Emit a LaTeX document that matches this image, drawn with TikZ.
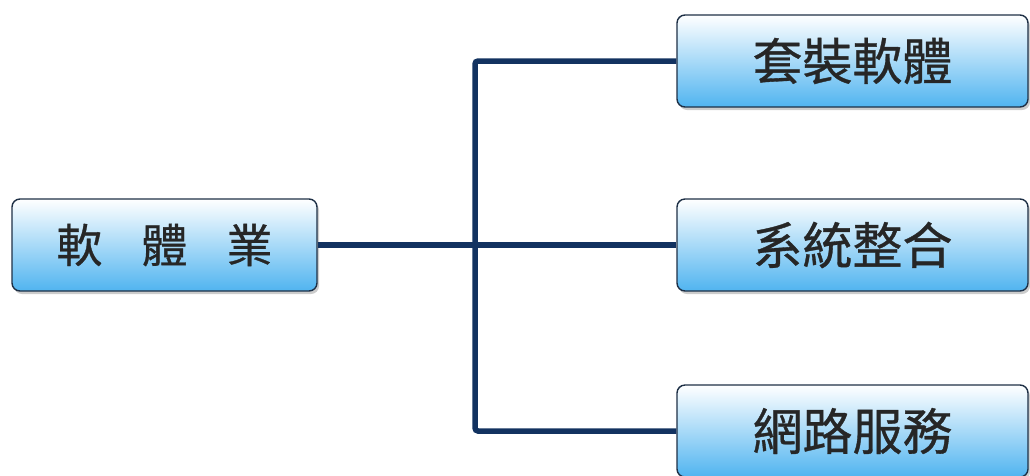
\documentclass[tikz,border=0pt]{standalone}
\usepackage{fontspec}
\newfontfamily\cjk[FakeBold=0.7]{Noto Sans CJK TC}
\usetikzlibrary{shadows}
\definecolor{boxline}{RGB}{30,48,70}
\definecolor{boxblue}{RGB}{80,180,240}
\definecolor{linkblue}{RGB}{18,50,96}

\begin{document}
\begin{tikzpicture} [x=1pt,y=-1pt,
  every node/.style={draw=boxline,line width=1.4pt,rounded corners=8pt,
    top color=white,bottom color=boxblue,
    drop shadow={shadow xshift=2pt,shadow yshift=-3pt,opacity=0.4},
    minimum height=92pt,inner sep=0pt,
    font=\cjk\fontsize{50}{50}\selectfont,text=black!85},
  link/.style={draw=linkblue,line width=5.5pt,rounded corners=3pt}]
\useasboundingbox (0,0) rectangle (1030,475);
\node (soft) [minimum width=305pt,font=\cjk\fontsize{46}{46}\selectfont] at (164.5,245) {軟\hspace{0.85em}體\hspace{0.85em}業};
\node (pack) [minimum width=351pt] at (852.5,61) {套裝軟體};
\node (sys) [minimum width=351pt] at (852.5,245) {系統整合};
\node (net) [minimum width=351pt] at (852.5,431) {網路服務};
\coordinate (j) at (475,245);

\draw[link](soft.east)--(sys.west);
\draw[link](pack.west)-|(j)|-(net.west);
\end{tikzpicture}
\end{document}
